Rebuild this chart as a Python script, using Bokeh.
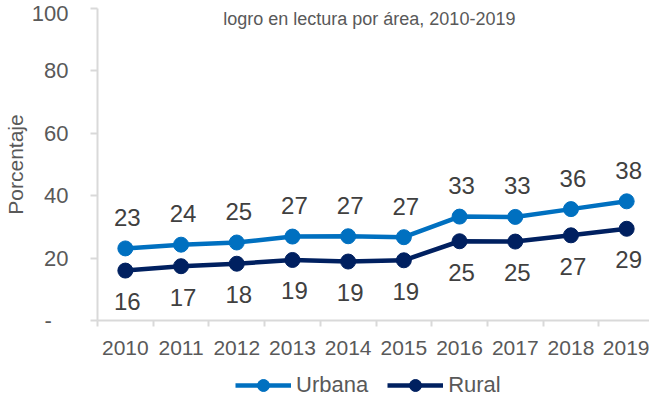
from bokeh.plotting import figure
from bokeh.layouts import column
from bokeh.models import ColumnDataSource, Range1d, FixedTicker, Legend, LegendItem, Label
from bokeh.core.properties import value
from bokeh.embed import file_html
from bokeh.resources import INLINE

years = ["2010", "2011", "2012", "2013", "2014", "2015", "2016", "2017", "2018", "2019"]
urbana = [23.1, 24.3, 25.0, 26.9, 27.0, 26.7, 33.3, 33.2, 35.7, 38.2]
rural = [16.0, 17.4, 18.2, 19.4, 18.9, 19.3, 25.4, 25.3, 27.3, 29.4]
y_ticks = [0, 20, 40, 60, 80, 100]
title_text = "logro en lectura por área, 2010-2019"
y_label = "Porcentaje"
series_names = ["Urbana", "Rural"]

FONT = "Liberation Sans"
AXIS_GREY = "#D9D9D9"
TEXT_GREY = "#595959"
C_URB = "#0070C0"
C_RUR = "#002060"

xs = list(range(len(years)))
src = ColumnDataSource(dict(
    x=xs, urbana=urbana, rural=rural,
    ul=[f"{v:.0f}" for v in urbana], rl=[f"{v:.0f}" for v in rural],
))

p = figure(width=649, height=360, output_backend="svg", toolbar_location=None,
           x_range=Range1d(-0.5, 9.41), y_range=Range1d(0, 100),
           min_border_left=90, min_border_right=0, min_border_top=8, min_border_bottom=40)
p.outline_line_color = None
p.xgrid.visible = False
p.ygrid.visible = False

# X axis
xa = p.xaxis[0]
xa.ticker = FixedTicker(ticks=xs, minor_ticks=[i - 0.5 for i in range(len(years) + 1)])
xa.major_label_overrides = {i: y for i, y in enumerate(years)}
xa.major_tick_out = 0
xa.major_tick_in = 0
xa.minor_tick_out = 6
xa.minor_tick_in = 0
xa.minor_tick_line_color = AXIS_GREY
xa.minor_tick_line_width = 2
xa.axis_line_color = AXIS_GREY
xa.axis_line_width = 2
xa.major_label_text_font = FONT
xa.major_label_text_font_size = "21px"
xa.major_label_text_color = TEXT_GREY
xa.major_label_standoff = 14

# Y axis
ya = p.yaxis[0]
ya.ticker = FixedTicker(ticks=y_ticks, minor_ticks=[])
ya.major_label_overrides = {0: "-\u2007\u2009"}
ya.major_tick_out = 7
ya.major_tick_in = 0
ya.major_tick_line_color = AXIS_GREY
ya.major_tick_line_width = 2
ya.axis_line_color = AXIS_GREY
ya.axis_line_width = 2
ya.major_label_text_font = FONT
ya.major_label_text_font_size = "22px"
ya.major_label_text_color = TEXT_GREY
ya.major_label_standoff = 22
ya.axis_label = y_label
ya.axis_label_text_font = FONT
ya.axis_label_text_font_size = "21px"
ya.axis_label_text_font_style = "normal"
ya.axis_label_text_color = TEXT_GREY
ya.axis_label_standoff = 2

# Series
p.line("x", "urbana", source=src, line_color=C_URB, line_width=4.5)
p.scatter("x", "urbana", source=src, size=15, fill_color=C_URB, line_color=C_URB)
p.line("x", "rural", source=src, line_color=C_RUR, line_width=4.5)
p.scatter("x", "rural", source=src, size=15, fill_color=C_RUR, line_color=C_RUR)

p.text("x", "urbana", text="ul", source=src, text_align="center", text_baseline="middle",
       x_offset=2, y_offset=-31, text_font=value(FONT), text_font_size="24px", text_color="#404040")
p.text("x", "rural", text="rl", source=src, text_align="center", text_baseline="middle",
       x_offset=2, y_offset=31, text_font=value(FONT), text_font_size="24px", text_color="#404040")

# Title (inside the frame, near its top)
p.add_layout(Label(x=4.38, y=100.0, text=title_text, text_align="center", text_baseline="top",
                   text_font=FONT, text_font_size="18px", text_color=TEXT_GREY))

# Legend strip below the chart
p2 = figure(width=649, height=40, output_backend="svg", toolbar_location=None,
            x_range=Range1d(-0.5, 9.41), y_range=Range1d(1000, 1001),
            x_axis_type=None, y_axis_type=None, min_border=0)
p2.outline_line_color = None
lu = p2.line("x", "urbana", source=src, line_color=C_URB, line_width=4.5)
su = p2.scatter("x", "urbana", source=src, size=15, fill_color=C_URB, line_color=C_URB)
lr = p2.line("x", "rural", source=src, line_color=C_RUR, line_width=4.5)
sr = p2.scatter("x", "rural", source=src, size=15, fill_color=C_RUR, line_color=C_RUR)
legend = Legend(items=[LegendItem(label=series_names[0], renderers=[lu, su]),
                       LegendItem(label=series_names[1], renderers=[lr, sr])],
                orientation="horizontal", location=(138, 0),
                glyph_width=56, glyph_height=30, label_standoff=5, spacing=19,
                padding=0, margin=0, border_line_alpha=0, background_fill_alpha=0,
                label_text_font=FONT, label_text_font_size="22px", label_text_color=TEXT_GREY)
p2.add_layout(legend, "center")

layout = column(p, p2, spacing=0)
open("out.html", "w").write(file_html(layout, INLINE))
